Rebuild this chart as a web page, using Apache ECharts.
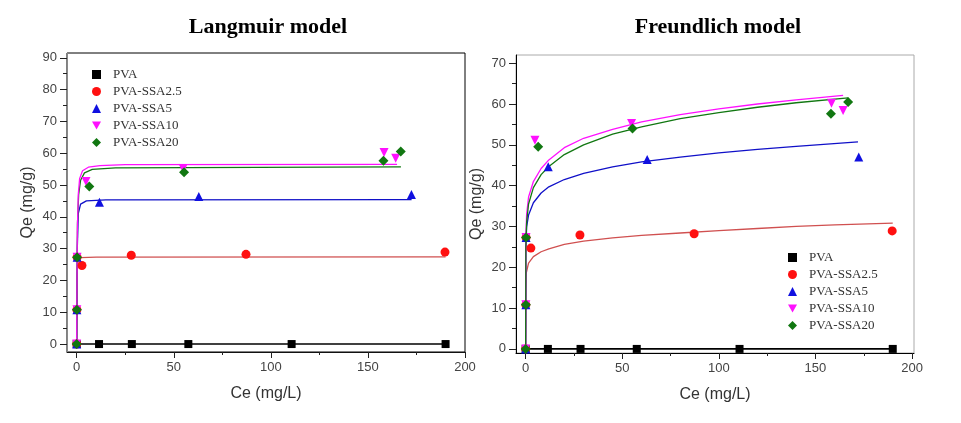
<!DOCTYPE html>
<html>
<head>
<meta charset="utf-8">
<script src="https://cdn.jsdelivr.net/npm/echarts@6/dist/echarts.min.js"></script>
<style>
html,body{margin:0;padding:0;background:#fff;}
#c{width:961px;height:423px;}
</style>
</head>
<body>
<div id="c"></div>
<script>
// ---- data (Ce mg/L, Qe mg/g) ----
const seriesNames = ['PVA', 'PVA-SSA2.5', 'PVA-SSA5', 'PVA-SSA10', 'PVA-SSA20'];
const ptsPVA   = [[0,0],[11.5,0],[28.4,0],[57.5,0],[110.7,0],[190,0]];
const ptsSSA2_5 = [[0,0],[0.1,10.8],[0.2,27.3],[2.7,24.7],[28.1,27.9],[87.2,28.2],[189.7,28.9]];
const ptsSSA5  = [[0,0],[0.1,10.8],[0.2,27.3],[11.7,44.6],[62.9,46.4],[172.4,47.0]];
const ptsSSA10 = [[0,0],[0.1,10.8],[0.2,27.3],[4.8,51.1],[54.8,55.2],[158.3,60.2],[164.3,58.4]];
const ptsSSA20 = [[0,0],[0.1,10.8],[0.2,27.3],[6.5,49.5],[55.3,54.0],[158.0,57.6],[166.9,60.5]];

// Langmuir fit curves
const langPVA   = [[0,0],[190,0]];
const langSSA2_5 = [[0,0],[0.2,22],[0.6,26.5],[2,27.2],[10,27.35],[190,27.4]];
const langSSA5  = [[0,0],[0.3,30],[0.8,41],[2,44],[5,45],[15,45.3],[172.5,45.4]];
const langSSA10 = [[0,0],[0.3,35],[0.8,47],[1.5,52],[3,54.5],[6,55.6],[12,56.1],[25,56.4],[165,56.5]];
const langSSA20 = [[0,0],[0.4,38],[1,47],[2,51.5],[4,53.8],[8,54.9],[20,55.4],[167,55.7]];

// Freundlich fit curves
const freuPVA   = [[0,0],[190,0]];
const freuSSA2_5 = [[0,0],[0.1,14],[0.3,18.6],[1.5,21],[4,22.6],[8,23.8],[12,24.5],[20,25.6],[30,26.4],[45,27.2],[60,27.8],[80,28.4],[100,29.0],[120,29.5],[140,30.0],[160,30.4],[190,30.8]];
const freuSSA5  = [[0,0],[0.1,24],[0.5,29.9],[1.5,32.8],[4,35.8],[8,38.2],[12,39.7],[20,41.5],[30,43.0],[45,44.6],[60,45.8],[80,47.0],[100,48.0],[120,48.9],[140,49.6],[172,50.7]];
const freuSSA10 = [[0,0],[0.1,27.5],[0.5,33],[1.5,37.2],[4,41],[8,44.2],[12,46.3],[20,49.3],[30,51.6],[45,53.8],[60,55.6],[80,57.4],[100,58.8],[120,60.0],[140,61.0],[164.3,62.1]];
const freuSSA20 = [[0,0],[0.1,25],[0.5,31],[1.5,35.5],[4,39.5],[8,42.7],[12,44.7],[20,47.6],[30,50.0],[45,52.6],[60,54.4],[80,56.4],[100,57.9],[120,59.2],[140,60.3],[166.9,61.5]];

const xLabels = [0,50,100,150,200];
const xMinor = [25,75,125,175];
const yLabelsL = [0,10,20,30,40,50,60,70,80,90];
const yMinorL = [5,15,25,35,45,55,65,75,85];
const yLabelsR = [0,10,20,30,40,50,60,70];
const yMinorR = [5,15,25,35,45,55,65];

const titles = ['Langmuir model', 'Freundlich model'];
const xName = 'Ce (mg/L)';
const yName = 'Qe (mg/g)';

// ---- styles ----
const colors = ['#000000', '#ff1010', '#1010e0', '#ff10ff', '#117711'];
const lineColors = ['#000000', '#d05050', '#1010c8', '#ff10ff', '#117711'];
const symbols = ['rect', 'circle', 'triangle', 'triangle', 'diamond'];
const legendIcons = ['rect', 'circle', 'triangle', 'path://M0,0 L10,0 L5,9 Z', 'diamond'];
const symRot = [0, 0, 0, 180, 0];
const symSize = [8, 9, 9, 9, 10];
const pts = [ptsPVA, ptsSSA2_5, ptsSSA5, ptsSSA10, ptsSSA20];
const lang = [langPVA, langSSA2_5, langSSA5, langSSA10, langSSA20];
const freu = [freuPVA, freuSSA2_5, freuSSA5, freuSSA10, freuSSA20];
const langOrder = [0, 1, 2, 4, 3];
const freuOrder = [0, 1, 2, 3, 4];

const sans = 'Liberation Sans';
const serif = 'Liberation Serif';
const labelStyle = {fontFamily: sans, fontSize: 13, color: '#444'};

function mainX(grid, lineColor) {
  return {type:'value', gridIndex:grid, min:-5, max: grid===0 ? 200 : 201, position:'bottom',
    name:xName, nameLocation:'middle', nameGap:34,
    nameTextStyle:{fontFamily:sans, fontSize:16, color:'#333'},
    axisLine:{show:true, onZero:false, lineStyle:{color:lineColor, width:1}},
    axisTick:{show:true, inside:false, length:6, customValues:xLabels, lineStyle:{color:'#222'}},
    axisLabel:{show:true, margin:9, customValues:xLabels, ...labelStyle},
    splitLine:{show:false}};
}
function minorX(grid) {
  return {type:'value', gridIndex:grid, min:-5, max: grid===0 ? 200 : 201, position:'bottom',
    axisLine:{show:false, onZero:false},
    axisTick:{show:true, inside:false, length:3, customValues:xMinor, lineStyle:{color:'#222'}},
    axisLabel:{show:false}, splitLine:{show:false}};
}
function mainY(grid, min, max, labels, lineColor, gap) {
  return {type:'value', gridIndex:grid, min:min, max:max, position:'left',
    name:yName, nameLocation:'middle', nameGap:gap, nameRotate:90,
    nameTextStyle:{fontFamily:sans, fontSize:16, color:'#333'},
    axisLine:{show:true, onZero:false, lineStyle:{color:lineColor, width:1}},
    axisTick:{show:true, inside:false, length:7, customValues:labels, lineStyle:{color:'#222'}},
    axisLabel:{show:true, margin:10, customValues:labels, ...labelStyle},
    splitLine:{show:false}};
}
function minorY(grid, min, max, ticks) {
  return {type:'value', gridIndex:grid, min:min, max:max, position:'left',
    axisLine:{show:false, onZero:false},
    axisTick:{show:true, inside:false, length:4, customValues:ticks, lineStyle:{color:'#222'}},
    axisLabel:{show:false}, splitLine:{show:false}};
}

const series = [];
// fit lines
[[lang, 0, langOrder], [freu, 2, freuOrder]].forEach(([curves, ax, order]) => {
  order.forEach(i => {
    series.push({type:'line', name: seriesNames[i] + ' fit ' + ax, data:curves[i],
      xAxisIndex:ax, yAxisIndex:ax, showSymbol:false, symbol:'none',
      smooth:false,
      lineStyle:{color:lineColors[i], width: i===0 ? 1.6 : 1.3},
      z:2, silent:true});
  });
});
// scatter points
[0, 2].forEach(ax => {
  pts.forEach((d, i) => {
    series.push({type:'scatter', name: seriesNames[i], data:d,
      xAxisIndex:ax, yAxisIndex:ax,
      symbol:symbols[i], symbolRotate:symRot[i], symbolSize:symSize[i],
      itemStyle:{color:colors[i], opacity:1}, z:3});
  });
});

const legendData = seriesNames.map((n, i) => ({name:n, icon:legendIcons[i]}));
const legendBase = {orient:'vertical', data:legendData, itemWidth:9, itemHeight:9, itemGap:2,
  textStyle:{fontFamily:serif, fontSize:13, color:'#333', lineHeight:15, padding:[0,0,0,7]}, selectedMode:false};

const option = {
  animation:false,
  backgroundColor:'#fff',
  title:[
    {text:titles[0], left:263, top:11, textAlign:'center',
     textStyle:{fontFamily:serif, fontWeight:'bold', fontSize:22, color:'#000'}},
    {text:titles[1], left:713, top:11, textAlign:'center',
     textStyle:{fontFamily:serif, fontWeight:'bold', fontSize:22, color:'#000'}}
  ],
  grid:[
    {left:67, top:53, width:398, height:299, show:true, borderColor:'#000', borderWidth:1, backgroundColor:'transparent'},
    {left:516, top:55, width:398, height:298, show:true, borderColor:'#aaa', borderWidth:1, backgroundColor:'transparent'}
  ],
  xAxis:[mainX(0,'#111'), minorX(0), mainX(1,'#000'), minorX(1)],
  yAxis:[mainY(0,-2.5,91.5,yLabelsL,'#888',31), minorY(0,-2.5,91.5,yMinorL),
         mainY(1,-1,72,yLabelsR,'#000',31), minorY(1,-1,72,yMinorR)],
  legend:[
    Object.assign({left:87, top:62}, legendBase),
    Object.assign({left:783, top:245}, legendBase)
  ],
  series:series
};

const chart = echarts.init(document.getElementById('c'), null, {renderer:'canvas'});
chart.setOption(option);
</script>
</body>
</html>
